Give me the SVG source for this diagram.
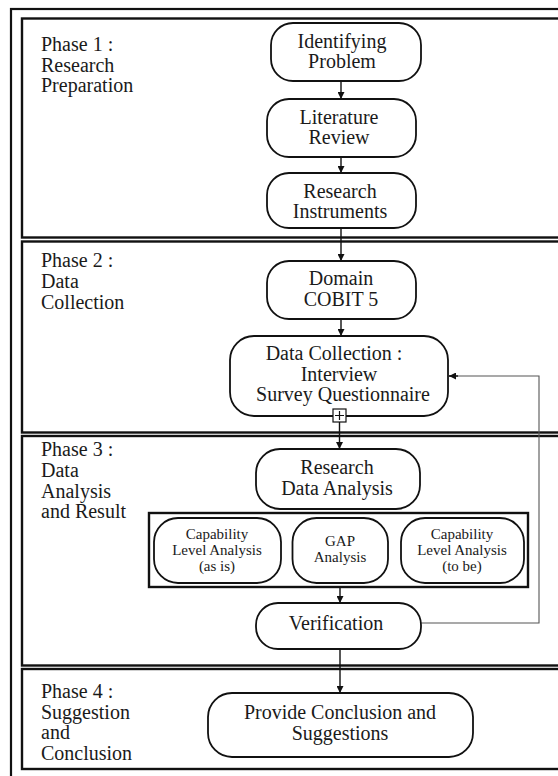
<svg xmlns="http://www.w3.org/2000/svg" width="558" height="776" viewBox="0 0 558 776">
<style>
  .frame{fill:none;stroke:#111;stroke-width:2.2}
  .phase{fill:none;stroke:#111;stroke-width:2.4}
  .node{fill:#fff;stroke:#111;stroke-width:1.8}
  .grp{fill:none;stroke:#111;stroke-width:2.4}
  .lbl{font-size:20px;fill:#1a1a1a}
  .t{font-size:20px;fill:#1a1a1a;text-anchor:middle}
  .s{font-size:15px;fill:#1a1a1a;text-anchor:middle}
  .c{fill:none;stroke:#111;stroke-width:1.4}
  .fb{fill:none;stroke:#555;stroke-width:1.1}
</style>
<defs>
  <marker id="ah" viewBox="0 0 10 10" refX="10" refY="5" markerWidth="7" markerHeight="7" markerUnits="userSpaceOnUse" orient="auto">
    <path d="M0,0 L10,5 L0,10 z" fill="#111"/>
  </marker>
</defs>
<rect width="558" height="776" fill="#fff"/>
<rect id="outer-frame" class="frame" x="11" y="9" width="600" height="800"/>
<g font-family="Liberation Serif, Tinos, Times New Roman, DejaVu Serif, serif">
<g id="phase1">
  <rect class="phase" x="22" y="18.5" width="600" height="219"/>
  <text class="lbl" x="41" y="51">Phase 1 :</text>
  <text class="lbl" x="41" y="71.5">Research</text>
  <text class="lbl" x="41" y="92">Preparation</text>
</g>
<g id="phase2">
  <rect class="phase" x="22" y="241.5" width="600" height="191"/>
  <text class="lbl" x="41" y="267">Phase 2 :</text>
  <text class="lbl" x="41" y="288">Data</text>
  <text class="lbl" x="41" y="309">Collection</text>
</g>
<g id="phase3">
  <rect class="phase" x="22" y="436" width="600" height="229.5"/>
  <text class="lbl" x="41" y="456">Phase 3 :</text>
  <text class="lbl" x="41" y="477">Data</text>
  <text class="lbl" x="41" y="498">Analysis</text>
  <text class="lbl" x="41" y="518">and Result</text>
</g>
<g id="phase4">
  <rect class="phase" x="22" y="669" width="600" height="100"/>
  <text class="lbl" x="41" y="698">Phase 4 :</text>
  <text class="lbl" x="41" y="719">Suggestion</text>
  <text class="lbl" x="41" y="739">and</text>
  <text class="lbl" x="41" y="760">Conclusion</text>
</g>

<g id="connectors">
  <line class="c" x1="341" y1="81" x2="341" y2="99" marker-end="url(#ah)"/>
  <line class="c" x1="341" y1="157" x2="341" y2="173" marker-end="url(#ah)"/>
  <line class="c" x1="341" y1="228" x2="341" y2="261" marker-end="url(#ah)"/>
  <line class="c" x1="341" y1="319" x2="341" y2="336" marker-end="url(#ah)"/>
  <line class="c" x1="339.5" y1="422" x2="339.5" y2="449" marker-end="url(#ah)"/>
  <line class="c" x1="340" y1="587" x2="340" y2="603" marker-end="url(#ah)"/>
  <line class="c" x1="340" y1="649" x2="340" y2="693" marker-end="url(#ah)"/>
  <polyline class="fb" points="421,623 539,623 539,376 449,376"/>
  <line class="c" x1="458" y1="376" x2="449" y2="376" marker-end="url(#ah)"/>
</g>

<g id="identifying-problem">
  <rect class="node" x="271" y="23" width="150" height="58" rx="22"/>
  <text class="t" x="342" y="48">Identifying</text>
  <text class="t" x="342" y="68">Problem</text>
</g>
<g id="literature-review">
  <rect class="node" x="267" y="99" width="149" height="58" rx="22"/>
  <text class="t" x="339" y="124">Literature</text>
  <text class="t" x="339" y="144">Review</text>
</g>
<g id="research-instruments">
  <rect class="node" x="267" y="173" width="149" height="55" rx="22"/>
  <text class="t" x="340" y="198">Research</text>
  <text class="t" x="340" y="218">Instruments</text>
</g>
<g id="domain-cobit">
  <rect class="node" x="267" y="261" width="149" height="58" rx="22"/>
  <text class="t" x="341" y="285">Domain</text>
  <text class="t" x="341" y="306">COBIT 5</text>
</g>
<g id="data-collection">
  <rect class="node" x="230" y="336" width="218" height="80" rx="24"/>
  <text class="t" x="334" y="360">Data Collection :</text>
  <text class="t" x="339" y="381">Interview</text>
  <text class="t" x="343" y="401">Survey Questionnaire</text>
  <rect x="333" y="409" width="13" height="13" fill="#fff" stroke="#111" stroke-width="1.2"/>
  <path d="M339.5,411 V420 M335,415.5 H344" stroke="#111" stroke-width="1.2"/>
</g>
<g id="research-data-analysis">
  <rect class="node" x="256" y="449" width="164" height="60" rx="24"/>
  <text class="t" x="337" y="474">Research</text>
  <text class="t" x="337" y="495">Data Analysis</text>
</g>
<g id="analysis-group">
  <rect class="grp" x="149" y="513" width="379" height="74"/>
  <g id="capability-as-is">
    <rect class="node" x="154" y="518" width="127" height="65" rx="24"/>
    <text class="s" x="217" y="539">Capability</text>
    <text class="s" x="217" y="555">Level Analysis</text>
    <text class="s" x="217" y="571">(as is)</text>
  </g>
  <g id="gap-analysis">
    <rect class="node" x="292.5" y="518" width="95.5" height="65" rx="24"/>
    <text class="s" x="340" y="546">GAP</text>
    <text class="s" x="340" y="562">Analysis</text>
  </g>
  <g id="capability-to-be">
    <rect class="node" x="401" y="518" width="123" height="65" rx="24"/>
    <text class="s" x="462" y="539">Capability</text>
    <text class="s" x="462" y="555">Level Analysis</text>
    <text class="s" x="462" y="571">(to be)</text>
  </g>
</g>
<g id="verification">
  <rect class="node" x="256" y="603" width="165" height="46" rx="22"/>
  <text class="t" x="336" y="630">Verification</text>
</g>
<g id="provide-conclusion">
  <rect class="node" x="208" y="693" width="265" height="64" rx="24"/>
  <text class="t" x="340" y="719">Provide Conclusion and</text>
  <text class="t" x="340" y="740">Suggestions</text>
</g>
</g>
</svg>
